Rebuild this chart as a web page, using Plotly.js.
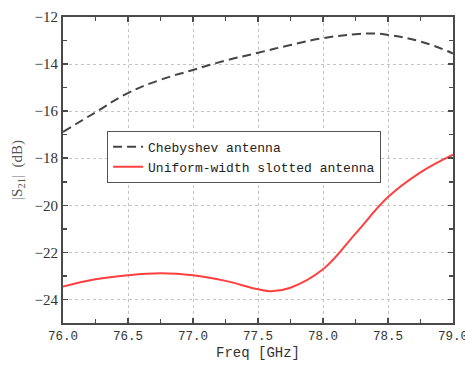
<!DOCTYPE html>
<html>
<head>
<meta charset="utf-8">
<script src="https://cdn.plot.ly/plotly-3.0.1.min.js"></script>
<style>html,body{margin:0;padding:0;background:#fff;}#chart{width:465px;height:366px;}</style>
</head>
<body>
<div id="chart"></div>
<script>
var freq = [76, 76.25, 76.5, 76.75, 77, 77.25, 77.5, 77.75, 78, 78.25, 78.4, 78.5, 78.75, 79];
var chebyshev = [-16.88, -16.05, -15.23, -14.67, -14.25, -13.85, -13.52, -13.19, -12.9, -12.73, -12.7, -12.76, -13.04, -13.55];
var freqUniform = [76, 76.25, 76.5, 76.75, 77, 77.25, 77.5, 77.6, 77.75, 78, 78.25, 78.5, 78.75, 79];
var uniform = [-23.45, -23.14, -22.97, -22.89, -22.97, -23.21, -23.57, -23.65, -23.5, -22.72, -21.2, -19.65, -18.6, -17.85];
var xTickVals = [76.0, 76.5, 77.0, 77.5, 78.0, 78.5, 79.0];
var xTickText = ["76.0", "76.5", "77.0", "77.5", "78.0", "78.5", "79.0"];
var seriesNames = ["Chebyshev antenna", "Uniform-width slotted antenna"];

var traces = [
  {x: freq, y: chebyshev, name: seriesNames[0], mode: 'lines',
   line: {color: '#454545', width: 2, dash: '9px,5px', shape: 'spline', smoothing: 1.3}},
  {x: freqUniform, y: uniform, name: seriesNames[1], mode: 'lines',
   line: {color: '#ff4040', width: 2, shape: 'spline', smoothing: 1.1}}
];

var axCommon = {
  showline: true, linecolor: '#4a4a4a', linewidth: 2, mirror: 'ticks',
  ticks: 'inside', ticklen: 5, tickwidth: 1.5, tickcolor: '#4a4a4a',
  showgrid: true, gridcolor: '#c4c4c4', griddash: 'dot', gridwidth: 1,
  zeroline: false, ticklabeloverflow: 'allow'
};

var layout = {
  width: 465, height: 366,
  margin: {l: 63, r: 12, t: 17, b: 43},
  paper_bgcolor: '#fff', plot_bgcolor: '#fff',
  showlegend: true,
  xaxis: Object.assign({}, axCommon, {
    range: [76, 79], tickmode: 'array', tickvals: xTickVals, ticktext: xTickText,
    minor: {dtick: 0.25, tick0: 76, ticks: 'inside', ticklen: 4, tickcolor: '#4a4a4a', showgrid: false},
    tickfont: {family: 'Liberation Mono, monospace', size: 12.5, color: '#333'},
    title: {text: 'Freq [GHz]', standoff: 4, font: {family: 'Liberation Mono, monospace', size: 14, color: '#333'}}
  }),
  yaxis: Object.assign({}, axCommon, {
    range: [-25, -12], dtick: 2, tick0: -12,
    minor: {dtick: 1, ticks: 'inside', ticklen: 4, tickcolor: '#4a4a4a', showgrid: false},
    tickfont: {family: 'Liberation Serif, serif', size: 15, color: '#333'},
    title: {text: '<span style="color:#999">|</span>S<sub>21</sub><span style="color:#999">|</span>  (dB)', standoff: 8,
            font: {family: 'Liberation Serif, serif', size: 15, color: '#555'}}
  }),
  legend: {
    x: 0.113, y: 0.628, xanchor: 'left', yanchor: 'top',
    bgcolor: '#fff', bordercolor: '#555', borderwidth: 1,
    font: {family: 'Liberation Mono, monospace', size: 13, color: '#222'},
    itemwidth: 30, tracegroupgap: 0
  }
};

Plotly.newPlot('chart', traces, layout, {displayModeBar: false, staticPlot: true});
</script>
</body>
</html>
